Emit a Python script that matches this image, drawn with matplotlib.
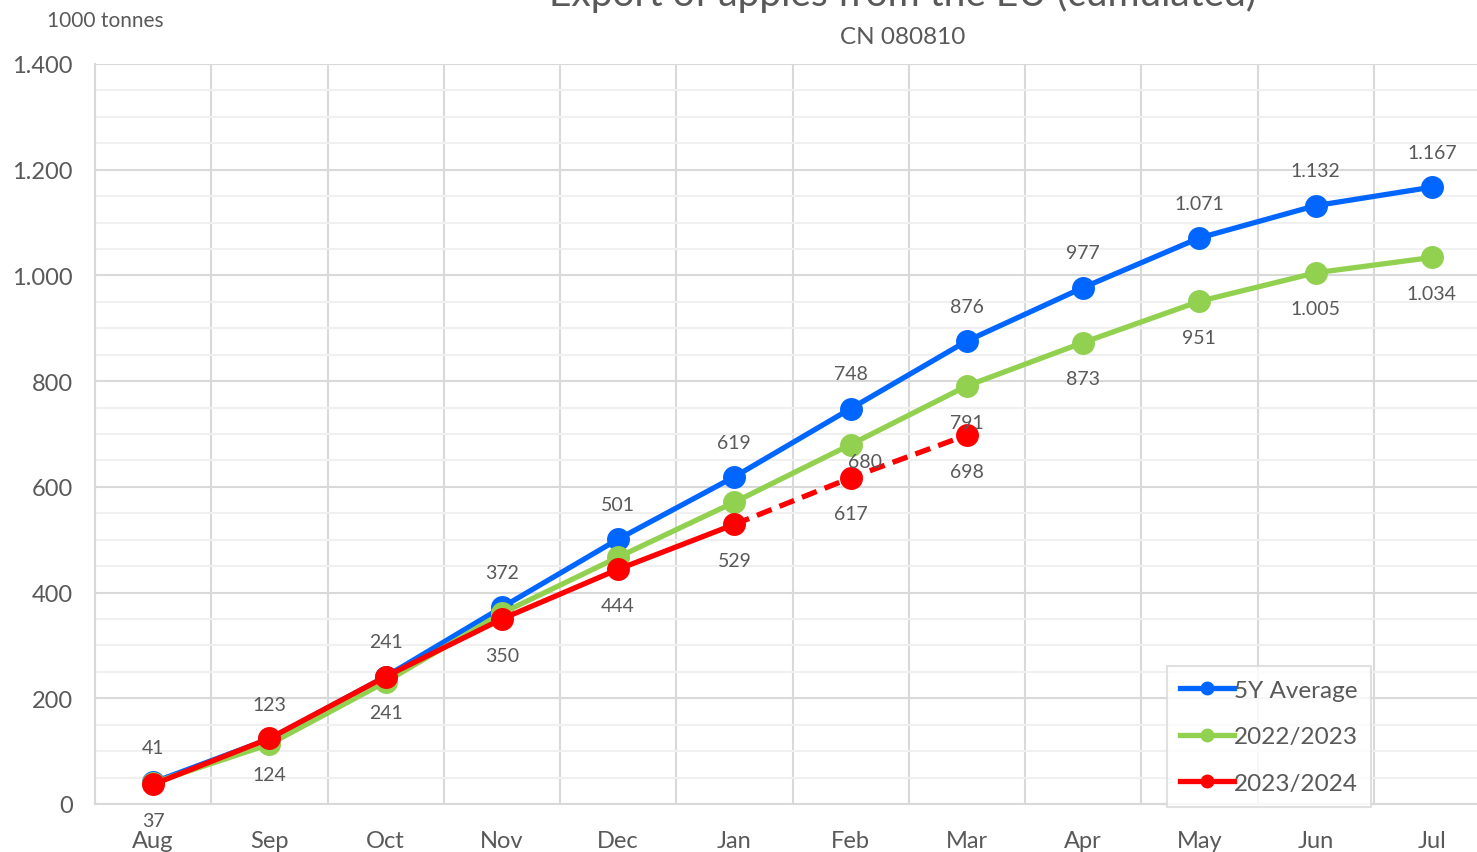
import matplotlib.pyplot as plt
from matplotlib.lines import Line2D
from matplotlib.ticker import FuncFormatter, MultipleLocator

plt.rcParams['font.family'] = ['Lato', 'DejaVu Sans']

MONTHS = ["Aug", "Sep", "Oct", "Nov", "Dec", "Jan", "Feb", "Mar", "Apr", "May", "Jun", "Jul"]
AVG_5Y = [41, 123, 241, 372, 501, 619, 748, 876, 977, 1071, 1132, 1167]
Y2022 = [40, 113, 231, 361, 467, 571, 680, 791, 873, 951, 1005, 1034]
Y2023 = [37, 124, 241, 350, 444, 529, 617, 698]

BLUE = "#0066FF"
GREEN = "#92D050"
RED = "#FF0000"
TEXT = "#595959"
GRID = "#D9D9D9"


def fmt(v):
    return f"{v:,.0f}".replace(",", ".")


fig = plt.figure(figsize=(14.77, 8.53), dpi=100)
ax = fig.add_axes([95 / 1477, 1 - 805 / 853, 1395 / 1477, 740 / 853])

x_all = range(len(MONTHS))
lw = 3.8
ms = 15.5

ax.plot(x_all, AVG_5Y, color=BLUE, lw=lw, marker="o", ms=ms, zorder=3)
ax.plot(x_all, Y2022, color=GREEN, lw=lw, marker="o", ms=ms, zorder=4)
ax.plot(range(6), Y2023[:6], color=RED, lw=lw, zorder=5)
ax.plot(range(5, 8), Y2023[5:], color=RED, lw=lw, ls=(0, (3.0, 1.6)), zorder=5)
ax.plot(range(8), Y2023, color=RED, lw=0, marker="o", ms=ms, zorder=6)

# data labels
for i, v in enumerate(AVG_5Y):
    ax.annotate(fmt(v), (i, v), xytext=(0, 25), textcoords="offset points",
                ha="center", va="center", fontsize=14, color=TEXT, zorder=7)
for i, v in enumerate(Y2023):
    ax.annotate(fmt(v), (i, v), xytext=(0, -26), textcoords="offset points",
                ha="center", va="center", fontsize=14, color=TEXT, zorder=7)
for i, v in enumerate(Y2022):
    if i < 6:
        continue
    off = (10, -12) if i == 6 else (0, -26)
    ax.annotate(fmt(v), (i, v), xytext=off, textcoords="offset points",
                ha="center", va="center", fontsize=14, color=TEXT, zorder=7)

ax.set_xlim(-0.5, 11.5)
ax.set_ylim(0, 1400)
ax.set_xticks(list(x_all))
ax.set_xticklabels(MONTHS)
ax.xaxis.set_minor_locator(MultipleLocator(1, offset=0.5))
ax.yaxis.set_major_locator(MultipleLocator(200))
ax.yaxis.set_minor_locator(MultipleLocator(50))
ax.yaxis.set_major_formatter(FuncFormatter(lambda v, p: fmt(v)))

ax.grid(axis="y", which="major", color=GRID, lw=1.5, zorder=0)
ax.grid(axis="y", which="minor", color="#F0F0F0", lw=1.5, zorder=0)
ax.grid(axis="x", which="minor", color=GRID, lw=1.5, zorder=0)
ax.set_axisbelow(True)

for side in ["top", "right"]:
    ax.spines[side].set_visible(False)
for side in ["left", "bottom"]:
    ax.spines[side].set_color(GRID)
    ax.spines[side].set_linewidth(1.5)

ax.tick_params(axis="both", which="both", length=0, colors=TEXT, labelsize=17)
ax.tick_params(axis="x", pad=19)
ax.tick_params(axis="y", pad=16)

fig.text(47 / 1477, 1 - 21 / 853, "1000 tonnes", ha="left", va="center",
         fontsize=15, color=TEXT)
fig.text(903 / 1477, 1 - 38 / 853, "CN 080810", ha="center", va="center",
         fontsize=17.5, color=TEXT)
fig.text(903 / 1477, 1 + 6 / 853, "Export of apples from the EU (cumulated)",
         ha="center", va="center", fontsize=28, color=TEXT)

handles = [
    Line2D([], [], color=BLUE, lw=lw, marker="o", ms=9),
    Line2D([], [], color=GREEN, lw=lw, marker="o", ms=9),
    Line2D([], [], color=RED, lw=lw, marker="o", ms=9),
]
leg = fig.legend(handles, ["5Y Average", "2022/2023", "2023/2024"],
                 loc="lower left", bbox_to_anchor=(1167 / 1477, 1 - 808 / 853),
                 fontsize=17.5, frameon=True, fancybox=False, handlelength=2.2,
                 handletextpad=0.0, labelspacing=1.05, borderpad=0.55,
                 borderaxespad=0, labelcolor=TEXT)
leg.get_frame().set_edgecolor(GRID)
leg.get_frame().set_linewidth(1.5)

fig.savefig("out.png", dpi=100)
